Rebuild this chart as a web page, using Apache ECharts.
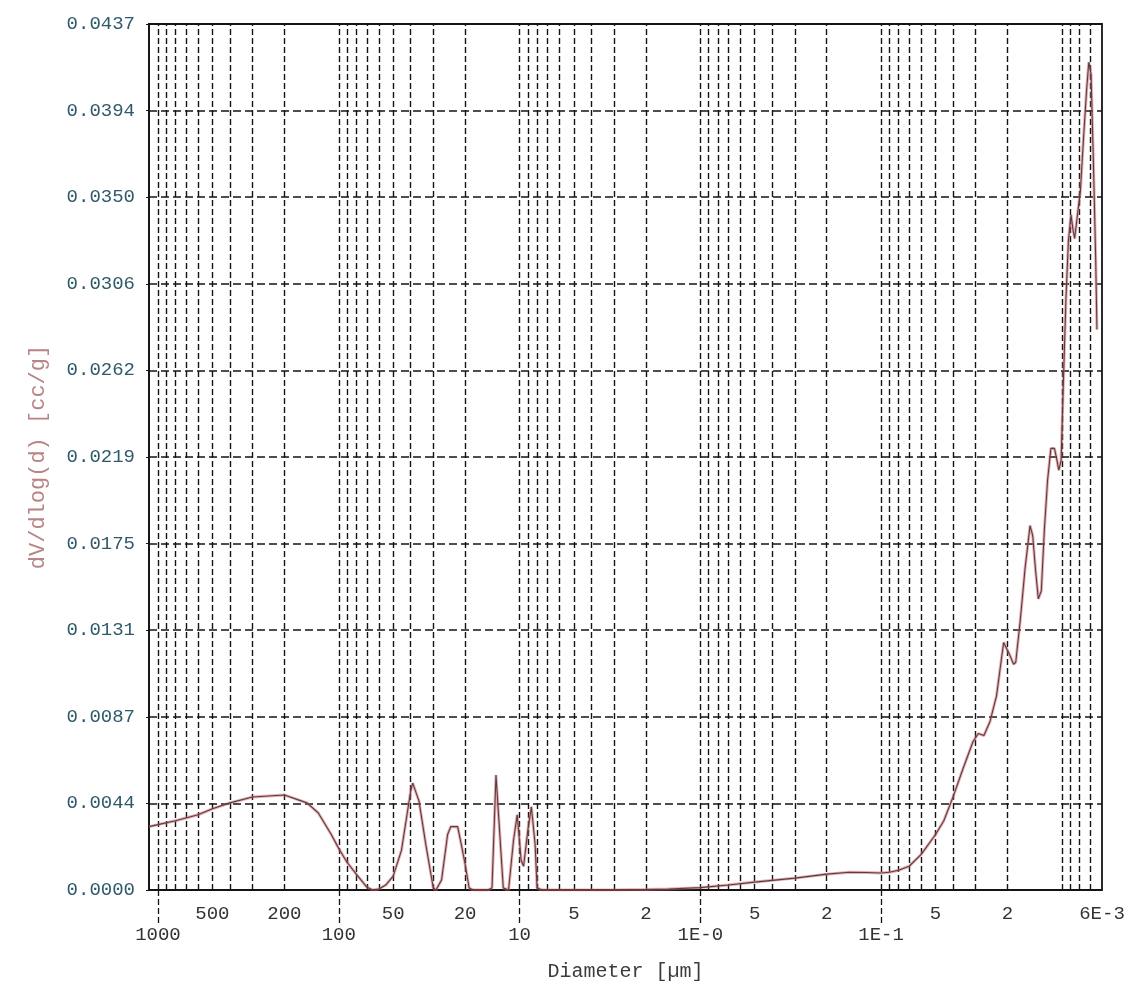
<!DOCTYPE html>
<html>
<head>
<meta charset="utf-8">
<title>dV/dlog(d)</title>
<script src="https://cdn.jsdelivr.net/npm/echarts@6/dist/echarts.min.js"></script>
<style>
  html, body { margin: 0; padding: 0; background: #ffffff; }
  #chart { width: 1137px; height: 994px; }
</style>
</head>
<body>
<div id="chart"></div>
<script>
// Pore size distribution: diameter in µm (descending) and dV/dlog(d) in cc/g
const diameterUm = [
  1121, 1000, 800, 600, 500, 400, 300, 200, 150, 130, 110, 100, 90, 80, 70, 65, 60, 55, 50, 45,
  40, 39, 36, 33, 30, 29, 27, 25, 24, 22, 21, 20, 19, 18, 15, 14.2, 13.5, 12.3, 11.5, 10.8,
  10.3, 9.8, 9.5, 9.0, 8.6, 8.2, 8.0, 7.5, 3, 2, 1.5, 1.0, 0.7, 0.5, 0.3, 0.2, 0.15, 0.12,
  0.1, 0.09, 0.08, 0.07, 0.06, 0.05, 0.045, 0.04, 0.035, 0.031, 0.029, 0.027, 0.025, 0.023,
  0.021, 0.0195, 0.0185, 0.018, 0.017, 0.016, 0.015, 0.0145, 0.014, 0.0135, 0.013, 0.0125,
  0.012, 0.0115, 0.011, 0.0107, 0.0104, 0.0101, 0.0098, 0.0095, 0.0092, 0.0089, 0.0087,
  0.0085, 0.0082, 0.0079, 0.0076, 0.0073, 0.0071, 0.0069, 0.0067, 0.0065, 0.0064
];
const dVdlogD = [
  0.0032, 0.0033, 0.0035, 0.0038, 0.0041, 0.0044, 0.0047, 0.0048, 0.0044, 0.0039, 0.0028, 0.0021, 0.0014, 0.0008, 0.00015, 0.0, 0.00005, 0.00025, 0.0007, 0.0020,
  0.0050, 0.0054, 0.0045, 0.0023, 0.0001, 0.0, 0.0005, 0.0028, 0.0032, 0.0032, 0.0023, 0.0013, 0.0001, 0.0, 0.0, 0.0001, 0.0058, 0.0001, 0.0, 0.0025,
  0.0038, 0.0015, 0.0012, 0.0030, 0.0042, 0.0023, 0.0001, 0.0, 0.0, 0.00002, 0.00005, 0.00012, 0.00025, 0.0004, 0.0006, 0.0008, 0.0009, 0.00088,
  0.00086, 0.0009, 0.0010, 0.0012, 0.0018, 0.0028, 0.0035, 0.0047, 0.0062, 0.0075, 0.0079, 0.0078, 0.0085, 0.0098,
  0.0125, 0.0119, 0.0114, 0.0115, 0.0136, 0.0162, 0.0184, 0.0179, 0.0162, 0.0147, 0.0151, 0.0182,
  0.0207, 0.0223, 0.0223, 0.0218, 0.0212, 0.0217, 0.0258, 0.0298, 0.0328, 0.0341, 0.0334,
  0.0329, 0.0341, 0.0353, 0.0379, 0.0404, 0.0418, 0.0412, 0.0369, 0.0318, 0.0283
];

// Diameter range of the plot (µm), axis runs from large to small
const xMaxUm = 1121;
const xMinUm = 0.006;

// Vertical dashed grid lines (1..9 x 10^n)
const gridDiameters = [
  1000, 900, 800, 700, 600, 500, 400, 300, 200,
  100, 90, 80, 70, 60, 50, 40, 30, 20,
  10, 9, 8, 7, 6, 5, 4, 3, 2,
  1, 0.9, 0.8, 0.7, 0.6, 0.5, 0.4, 0.3, 0.2,
  0.1, 0.09, 0.08, 0.07, 0.06, 0.05, 0.04, 0.03, 0.02,
  0.01, 0.009, 0.008, 0.007
];

// Bottom tick labels: upper row (intermediate values) and lower row (decades)
const xLabelUpperPos = [500, 200, 50, 20, 5, 2, 0.5, 0.2, 0.05, 0.02, 0.006];
const xLabelUpperText = ['500', '200', '50', '20', '5', '2', '5', '2', '5', '2', '6E-3'];
const xLabelLowerPos = [1000, 100, 10, 1, 0.1];
const xLabelLowerText = ['1000', '100', '10', '1E-0', '1E-1'];

// Vertical axis
const yMax = 0.04373;
const yStep = 0.004373;
const yTickLabels = ['0.0000', '0.0044', '0.0087', '0.0131', '0.0175', '0.0219',
                     '0.0262', '0.0306', '0.0350', '0.0394', '0.0437'];

const FONT = '"Liberation Mono", "DejaVu Sans Mono", monospace';
const INK = '#141414';
const GRID = { left: 149, right: 35, top: 24, bottom: 104 };
const plotHeight = 994 - GRID.top - GRID.bottom;

function lookup(positions, texts) {
  const logs = positions.map(Math.log10);
  return function (v) {
    for (let i = 0; i < logs.length; i++) {
      if (Math.abs(logs[i] - v) < 1e-6) return texts[i];
    }
    return '';
  };
}

const chart = echarts.init(document.getElementById('chart'));

// helper axes in log10 space, sharing the plot's extent (labels, decade ticks, grid)
const auxAxisBase = {
  type: 'value',
  position: 'bottom',
  inverse: true,
  min: Math.log10(xMinUm),
  max: Math.log10(xMaxUm),
  axisLine: { show: false, onZero: false },
  splitLine: { show: false }
};

const curve = diameterUm.map((d, i) => [d, dVdlogD[i]]);

chart.setOption({
  animation: false,
  backgroundColor: '#ffffff',
  grid: Object.assign({
    show: true, borderColor: INK, borderWidth: 1.8, backgroundColor: 'transparent'
  }, GRID),
  xAxis: [
    {
      type: 'log',
      logBase: 10,
      inverse: true,
      min: xMinUm,
      max: xMaxUm,
      position: 'bottom',
      axisLine: { show: false, onZero: false },
      axisTick: { show: false },
      axisLabel: { show: false },
      splitLine: { show: false },
      name: 'Diameter [µm]',
      nameLocation: 'middle',
      nameGap: 72,
      nameTextStyle: { fontFamily: FONT, fontSize: 20, color: '#3c3c3c' }
    },
    Object.assign({}, auxAxisBase, {
      axisTick: { show: false },
      axisLabel: {
        customValues: xLabelUpperPos.map(Math.log10),
        formatter: lookup(xLabelUpperPos, xLabelUpperText),
        margin: 14,
        fontFamily: FONT, fontSize: 19, color: '#333333'
      }
    }),
    Object.assign({}, auxAxisBase, {
      axisTick: {
        show: true,
        customValues: xLabelLowerPos.map(Math.log10),
        length: 35,
        lineStyle: { color: INK, width: 1.3, type: [6, 3] }
      },
      axisLabel: {
        customValues: xLabelLowerPos.map(Math.log10),
        formatter: lookup(xLabelLowerPos, xLabelLowerText),
        margin: 35,
        fontFamily: FONT, fontSize: 19, color: '#333333'
      }
    }),
    Object.assign({}, auxAxisBase, {
      // vertical dashed grid, drawn as full-height inside ticks
      axisTick: {
        show: true,
        inside: true,
        customValues: gridDiameters.map(Math.log10),
        length: plotHeight,
        lineStyle: { color: INK, width: 1.4, type: [6, 3] }
      },
      axisLabel: { show: false }
    })
  ],
  yAxis: {
    type: 'value',
    min: 0,
    max: yMax,
    interval: yStep,
    axisLine: { show: true, onZero: false, lineStyle: { color: INK, width: 1.8 } },
    axisTick: { show: true, length: 3, lineStyle: { color: INK } },
    axisLabel: {
      margin: 14,
      fontFamily: FONT, fontSize: 19, color: '#2f5a6a',
      formatter: function (v) { return yTickLabels[Math.round(v / yStep)] || ''; }
    },
    splitLine: { show: true, lineStyle: { color: INK, width: 1.5, type: [8, 4] } },
    name: 'dV/dlog(d) [cc/g]',
    nameLocation: 'middle',
    nameGap: 100,
    nameTextStyle: { fontFamily: FONT, fontSize: 22, color: '#b88484' }
  },
  series: [
    {
      type: 'line',
      xAxisIndex: 0,
      z: 3,
      showSymbol: false,
      symbol: 'none',
      silent: true,
      lineStyle: { color: '#e05a5a', width: 3, opacity: 0.5 },
      data: curve
    },
    {
      type: 'line',
      xAxisIndex: 0,
      z: 4,
      showSymbol: false,
      symbol: 'none',
      silent: true,
      lineStyle: { color: '#4e424a', width: 1.1 },
      data: curve
    }
  ]
});
</script>
</body>
</html>
